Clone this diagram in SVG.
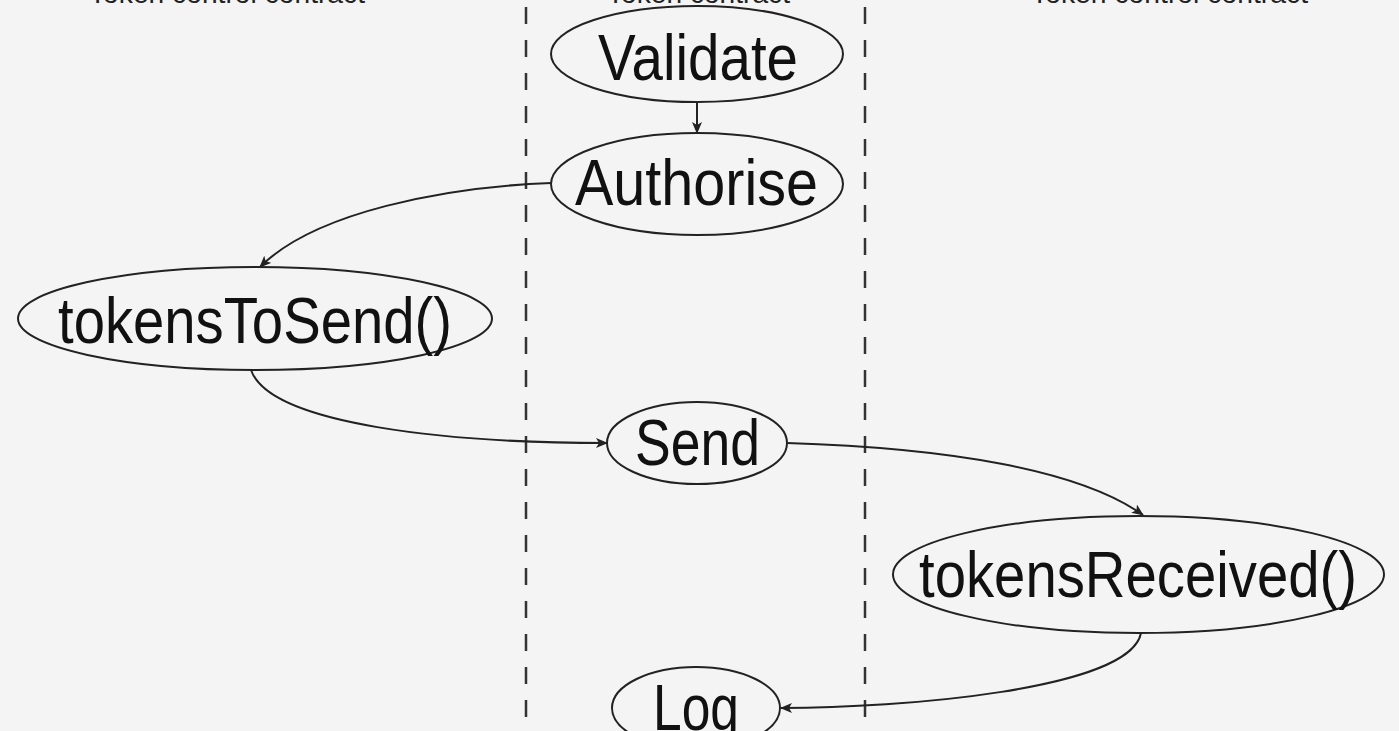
<svg xmlns="http://www.w3.org/2000/svg" width="1399" height="731" viewBox="0 0 1399 731">
<defs>
<style>
.bg{fill:#f4f4f4}
.node ellipse{fill:none;stroke:#222;stroke-width:2}
.node text{font-family:"Liberation Sans",Arial,sans-serif;font-size:64px;fill:#111;text-anchor:start}
.lane{stroke:#333;stroke-width:2.5;stroke-dasharray:17 16;fill:none}
.edge{fill:none;stroke:#222;stroke-width:2;marker-end:url(#arr)}
.title{font-family:"Liberation Sans",Arial,sans-serif;font-size:28px;fill:#222}
</style>
<marker id="arr" viewBox="0 0 12 10" refX="11" refY="5" markerWidth="12" markerHeight="10" markerUnits="userSpaceOnUse" orient="auto">
<path d="M0,0 L12,5 L0,10 L3,5 Z" fill="#222"/>
</marker>
</defs>
<rect class="bg" x="0" y="0" width="1399" height="731"/>
<g id="lanes">
<text class="title" x="89" y="3" textLength="276" lengthAdjust="spacingAndGlyphs">Token control contract</text>
<text class="title" x="607" y="3" textLength="183" lengthAdjust="spacingAndGlyphs">Token contract</text>
<text class="title" x="1031" y="3" textLength="277" lengthAdjust="spacingAndGlyphs">Token control contract</text>
<line class="lane" x1="526" y1="7" x2="526" y2="731"/>
<line class="lane" x1="865" y1="7" x2="865" y2="731"/>
</g>
<g id="connectors">
<path class="edge" d="M697,102 L697,133"/>
<path class="edge" d="M551,183 C445,187 315,212 260,267"/>
<path class="edge" d="M251,370 C270,425 450,443 607,443"/>
<path class="edge" d="M787,443 C950,448 1080,470 1143,515"/>
<path class="edge" d="M1141,633 C1130,690 900,708 781,708"/>
</g>
<g id="validate" class="node">
<ellipse cx="697" cy="54" rx="146" ry="48"/>
<text x="598" y="80" textLength="200" lengthAdjust="spacingAndGlyphs">Validate</text>
</g>
<g id="authorise" class="node">
<ellipse cx="697" cy="184" rx="146" ry="51"/>
<text x="575" y="205" textLength="243" lengthAdjust="spacingAndGlyphs">Authorise</text>
</g>
<g id="tokensToSend" class="node">
<ellipse cx="255" cy="318.5" rx="237" ry="51.5"/>
<text x="58" y="343" textLength="394" lengthAdjust="spacingAndGlyphs">tokensToSend()</text>
</g>
<g id="send" class="node">
<ellipse cx="697" cy="443" rx="90" ry="41"/>
<text x="635" y="465" textLength="125" lengthAdjust="spacingAndGlyphs">Send</text>
</g>
<g id="tokensReceived" class="node">
<ellipse cx="1138.5" cy="574.5" rx="245.5" ry="58.5"/>
<text x="919" y="597" textLength="438" lengthAdjust="spacingAndGlyphs">tokensReceived()</text>
</g>
<g id="log" class="node">
<ellipse cx="696" cy="708" rx="84" ry="41"/>
<text x="653" y="730" textLength="86" lengthAdjust="spacingAndGlyphs">Log</text>
</g>
</svg>
